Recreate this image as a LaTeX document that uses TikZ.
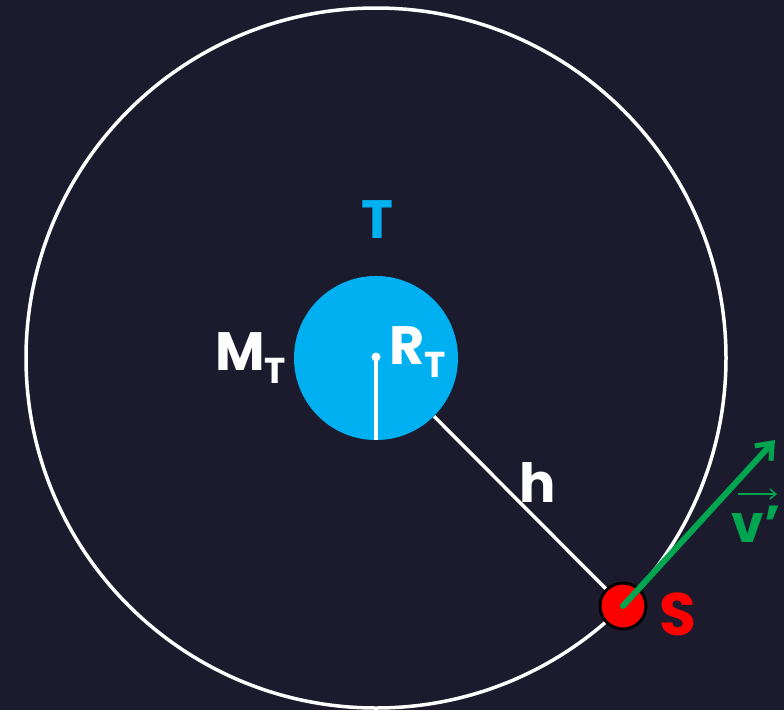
\documentclass[tikz,border=0pt]{standalone}
\usepackage{fontspec}
\setmainfont{Poppins}
\usepackage{tikz}
\usetikzlibrary{arrows.meta,positioning,calc}
\definecolor{night}{HTML}{1C1B2E}
\definecolor{earthblue}{HTML}{00B0F0}
\definecolor{satred}{HTML}{FF0000}
\definecolor{vgreen}{HTML}{00A550}
\newcommand{\lowidx}[1]{\raisebox{-0.45ex}{\fontsize{36}{36}\selectfont #1}}

\begin{document}
\begin{tikzpicture}[
  x=1pt, y=-1pt,
  font=\fontsize{54}{54}\selectfont\bfseries,
  orbit/.style={draw=white, line width=3.5pt, circle, minimum size=700pt, inner sep=0pt},
  planet/.style={circle, fill=earthblue, minimum size=164pt, inner sep=0pt},
  sat/.style={circle, fill=satred, draw=black, line width=3pt, minimum size=46pt, inner sep=0pt},
  wline/.style={draw=white, line width=3.5pt},
  varr/.style={-{Straight Barb[length=14pt,width=22pt,line width=5pt]}, vgreen, line width=6pt, line cap=round}
]
\fill[night] (0,0) rectangle (784,710);
\useasboundingbox (0,0) rectangle (784,710);
\node[orbit] (orbit) at (376,358) {};
\node[planet] (earth) at (376,358) {};
\node[sat] (sat) at (623,606) {};
\coordinate (core) at (376,357);
\coordinate (vtip) at (775,440);
% labels
\node[text=earthblue] (tlab) at (377,220) {T};
\node[text=white, left=4pt of earth] (mlab) {M\lowidx{T}};
\node[text=white] (rlab) at (418,352) {R\lowidx{T}};
\node[text=white] (hlab) at (538,483) {h};
\node[text=satred, font=\fontsize{60}{60}\selectfont\bfseries, right=8pt of sat, yshift=-8pt] (slab) {S};
\node[text=vgreen, font=\fontsize{52}{52}\selectfont\bfseries, inner sep=0pt] (vlab) at (756,524) {v'};
\draw[vgreen, line width=1.5pt, -{Straight Barb[length=6pt,width=10pt,line width=1.5pt]}]
  ([xshift=-18pt,yshift=30pt]vlab.center) -- ([xshift=21pt,yshift=30pt]vlab.center);
% lines
\draw[wline] (core) -- (earth.south);
\fill[white] (core) circle (4.5pt);
\draw[wline] (earth) -- (sat);
\draw[varr] (sat.center) -- (vtip);
\end{tikzpicture}
\end{document}
